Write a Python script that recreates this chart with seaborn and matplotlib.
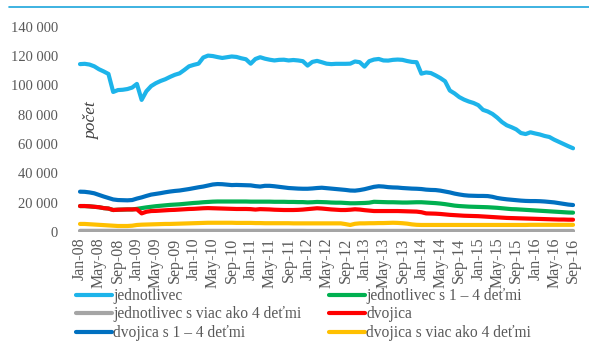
import numpy as np
import pandas as pd
import seaborn as sns
import matplotlib.pyplot as plt
from matplotlib.lines import Line2D
from matplotlib.ticker import FixedLocator, FuncFormatter

# Monthly counts, Jan 2008 - Sep 2016
months = pd.date_range("2008-01-01", "2016-09-01", freq="MS").strftime("%b-%y").tolist()

jednotlivec = [
    114500, 114700, 114200, 113000, 111000, 109500, 107800, 95500, 96800, 97000, 97500, 98500,
    101000, 90100, 96000, 99500, 101500, 103000, 104200, 105800, 107200, 108200, 110500, 113000,
    114000, 114800, 119000, 120300, 120000, 119300, 118700, 119200, 119700, 119400, 118500, 117800,
    114800, 118000, 119200, 118200, 117500, 117000, 117400, 117500, 117000, 117300, 117000, 116500,
    113500, 116000, 116700, 115800, 114800, 114500, 114700, 114700, 114700, 114800, 116300, 115800,
    112800, 116500, 117600, 118000, 117000, 116900, 117400, 117600, 117400, 116600, 116000, 115800,
    108000, 108800, 108400, 106800, 105000, 102800, 96500, 94500, 92000, 90300, 89000, 88000,
    86500, 83300, 82200, 80500, 78000, 75000, 72800, 71500, 70000, 67500, 66800, 68000,
    67200, 66500, 65500, 64800, 63000, 61500, 60000, 58500, 57100,
]

jednotlivec_1_4 = [
    17700, 17700, 17500, 17200, 16900, 16300, 16000, 15000, 15200, 15300, 15400, 15400,
    15800, 16300, 16800, 17200, 17600, 17900, 18200, 18500, 18700, 18900, 19200, 19500,
    19800, 20000, 20300, 20500, 20700, 20800, 20800, 20800, 20800, 20800, 20800, 20800,
    20700, 20700, 20700, 20700, 20700, 20600, 20600, 20600, 20500, 20500, 20400, 20400,
    20200, 20300, 20500, 20400, 20300, 20100, 20000, 20000, 19800, 19600, 19600, 19700,
    19800, 20000, 20600, 20500, 20400, 20300, 20300, 20200, 20100, 20100, 20200, 20300,
    20300, 20100, 19900, 19700, 19400, 19000, 18500, 18000, 17700, 17500, 17300, 17200,
    17100, 17000, 16900, 16700, 16500, 16200, 15900, 15600, 15500, 15300, 15100, 14900,
    14700, 14500, 14300, 14100, 13900, 13700, 13500, 13300, 13200,
]

jednotlivec_viac_4 = [
    800, 800, 800, 800, 800, 800, 800, 800, 800, 800, 800, 800,
    800, 800, 800, 800, 800, 800, 800, 800, 800, 800, 800, 800,
    800, 800, 800, 800, 800, 800, 800, 800, 800, 800, 800, 800,
    800, 800, 800, 800, 800, 800, 800, 800, 800, 800, 800, 800,
    750, 750, 750, 750, 750, 750, 750, 750, 750, 750, 750, 750,
    750, 750, 750, 750, 750, 750, 750, 750, 750, 750, 750, 750,
    700, 700, 700, 700, 700, 700, 700, 700, 700, 700, 700, 700,
    700, 700, 700, 700, 700, 700, 700, 700, 700, 700, 700, 700,
    700, 700, 700, 700, 700, 700, 700, 700, 700,
]

dvojica = [
    17700, 17700, 17500, 17200, 16900, 16300, 16000, 15000, 15200, 15300, 15400, 15400,
    15500, 12700, 13800, 14300, 14400, 14600, 14800, 15000, 15100, 15300, 15500, 15700,
    15800, 16000, 16200, 16300, 16200, 16100, 16000, 15900, 15800, 15700, 15700, 15700,
    15600, 15300, 15600, 15500, 15400, 15200, 15100, 15000, 15000, 15000, 15100, 15300,
    15600, 15900, 16200, 16000, 15700, 15400, 15200, 15000, 15000, 15200, 15500, 15300,
    14900, 14600, 14300, 14300, 14300, 14300, 14300, 14300, 14200, 14100, 14000, 13900,
    13500, 12700, 12600, 12500, 12300, 12000, 11700, 11500, 11300, 11100, 11000, 10900,
    10800, 10600, 10400, 10200, 10000, 9800, 9600, 9500, 9400, 9300, 9200, 9100,
    9000, 8900, 8800, 8700, 8600, 8500, 8500, 8400, 8400,
]

dvojica_1_4 = [
    27500, 27400, 27000, 26400, 25300, 24200, 23200, 22200, 21800, 21700, 21600, 21800,
    22800, 23600, 24600, 25500, 26000, 26500, 27100, 27600, 28000, 28300, 28800, 29300,
    29900, 30500, 31000, 31700, 32400, 32700, 32600, 32300, 32000, 32100, 32000, 31900,
    31800, 31300, 31000, 31500, 31500, 31200, 30800, 30400, 30000, 29800, 29600, 29500,
    29500, 29700, 30000, 30200, 29900, 29600, 29300, 29000, 28700, 28300, 28200, 28600,
    29200, 30000, 30800, 31200, 31000, 30600, 30400, 30300, 30000, 29800, 29600, 29500,
    29300, 28900, 28700, 28600, 28200, 27600, 27000, 26200, 25600, 25100, 24800, 24700,
    24600, 24600, 24500, 24000, 23200, 22700, 22300, 22000, 21700, 21400, 21200, 21100,
    21100, 21000, 20800, 20500, 20200, 19700, 19200, 18700, 18400,
]

dvojica_viac_4 = [
    5500, 5500, 5300, 5100, 4900, 4700, 4500, 4300, 4100, 4100, 4100, 4300,
    4800, 5000, 5100, 5200, 5300, 5400, 5500, 5500, 5600, 5700, 5800, 5900,
    6000, 6100, 6200, 6300, 6300, 6300, 6300, 6300, 6300, 6200, 6200, 6200,
    6200, 6100, 6100, 6000, 6000, 6000, 6000, 6000, 6000, 5900, 5900, 5900,
    5900, 5900, 5900, 5900, 5900, 5900, 5900, 5900, 5400, 4800, 5600, 5900,
    5900, 6000, 6000, 6100, 6100, 6200, 6300, 6200, 6000, 5700, 5200, 4900,
    4800, 4800, 4800, 4800, 4800, 4800, 4800, 4800, 4800, 4800, 4800, 4800,
    4800, 4800, 4800, 4800, 4800, 4800, 4800, 4800, 4800, 4800, 4800, 4900,
    4900, 4900, 4900, 4900, 4900, 4900, 4900, 4900, 4900,
]

series_names = [
    "jednotlivec",
    "jednotlivec s 1 – 4 deťmi",
    "jednotlivec s viac ako 4 deťmi",
    "dvojica",
    "dvojica s 1 – 4 deťmi",
    "dvojica s viac ako 4 deťmi",
]
series_values = [jednotlivec, jednotlivec_1_4, jednotlivec_viac_4,
                 dvojica, dvojica_1_4, dvojica_viac_4]
series_colors = ["#1db4ea", "#00b050", "#a5a5a5", "#ff0000", "#0070c0", "#ffc000"]

tick_labels = months[::4]
y_ticks = [0, 20000, 40000, 60000, 80000, 100000, 120000, 140000]

rows = []
for name, vals in zip(series_names, series_values):
    for i, v in enumerate(vals):
        rows.append({"mesiac": i, "počet": v, "typ": name})
df = pd.DataFrame(rows)

sns.set_style("white")
plt.rcParams["font.family"] = ["Liberation Serif", "DejaVu Serif"]
text_color = "#595959"

fig = plt.figure(figsize=(5.89, 3.43), dpi=100)
ax = fig.add_axes([0.1318, 0.3236, 0.8452, 0.5985])

sns.lineplot(data=df, x="mesiac", y="počet", hue="typ", hue_order=series_names,
             palette=series_colors, linewidth=3.0, ax=ax, legend=False,
             solid_capstyle="round", solid_joinstyle="round")

ax.set_xlim(-0.5, len(months) - 0.5)
ax.set_ylim(0, 140000)
ax.xaxis.set_major_locator(FixedLocator(list(range(0, len(months), 4))))
ax.set_xticklabels(tick_labels, rotation=90, fontsize=11.5, color=text_color)
ax.yaxis.set_major_locator(FixedLocator(y_ticks))
ax.yaxis.set_major_formatter(FuncFormatter(lambda v, p: f"{int(v):,}".replace(",", " ")))
ax.tick_params(axis="y", labelsize=10.5, labelcolor=text_color, length=0, pad=14)
ax.tick_params(axis="x", length=0, pad=4)
ax.set_xlabel("")
ax.set_ylabel("")
for s in ax.spines.values():
    s.set_visible(False)

ax.text(0.029, 0.54, "počet", transform=ax.transAxes, rotation=90,
        fontsize=12.5, style="italic", color="#404040", ha="center", va="center")

# thin rule across the top
fig.add_artist(Line2D([9 / 589, 1.0], [1 - 7 / 343, 1 - 7 / 343],
                      color="#1ca6dc", linewidth=1.2, transform=fig.transFigure))

order = [0, 2, 4, 1, 3, 5]
handles = [Line2D([], [], color=series_colors[i], linewidth=3.0) for i in order]
labels = [series_names[i] for i in order]
fig.legend(handles, labels, loc="upper left", bbox_to_anchor=(76 / 589, 1 - 288 / 343),
           ncol=2, frameon=False, fontsize=11.2, handlelength=2.3, handletextpad=0.1,
           columnspacing=1.75, labelspacing=0.16, borderpad=0, borderaxespad=0,
           labelcolor=text_color)

fig.savefig("out.png", dpi=100)
